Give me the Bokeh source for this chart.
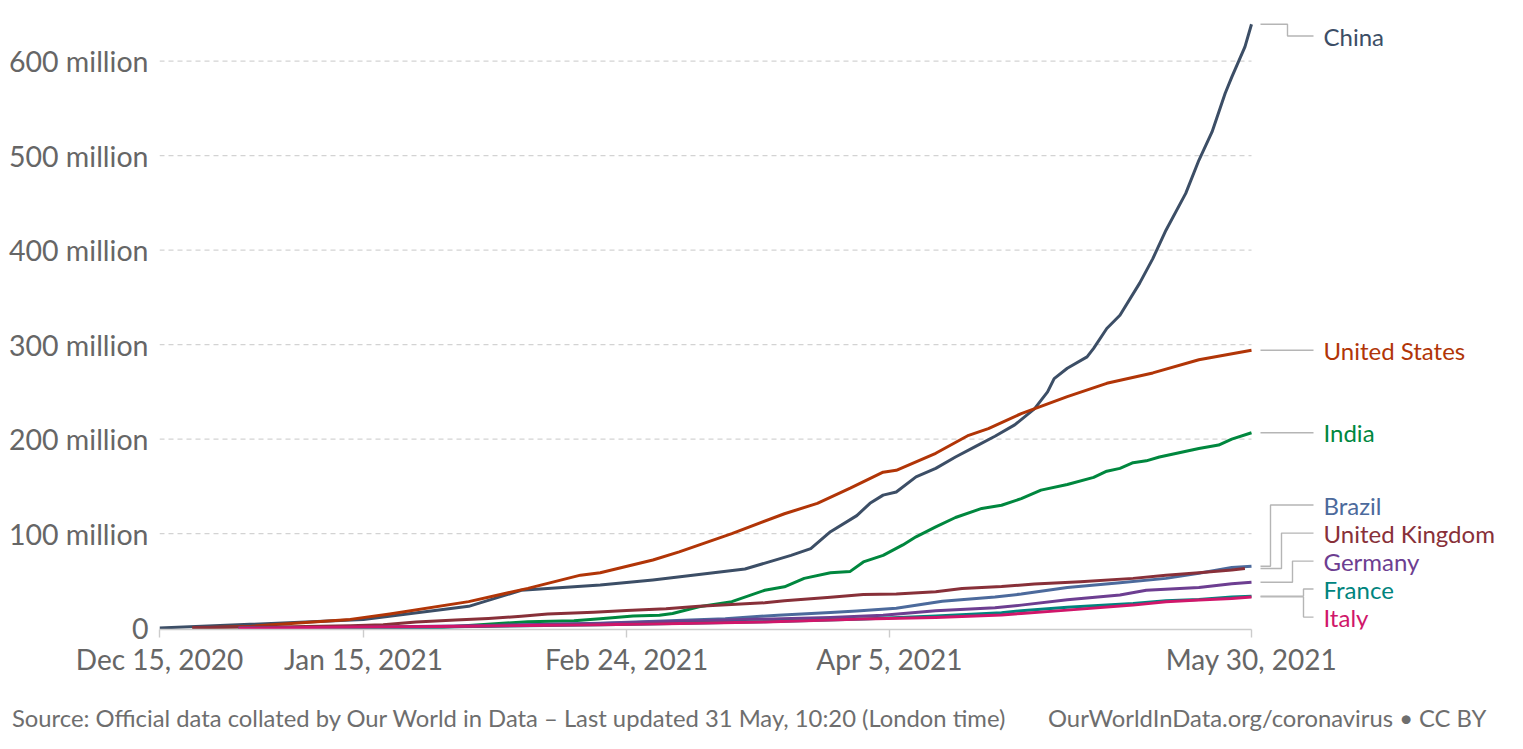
import pandas as pd
from bokeh.plotting import figure
from bokeh.layouts import column
from bokeh.models import Range1d, FixedTicker, ColumnDataSource, Div
from bokeh.core.properties import value
from bokeh.embed import file_html
from bokeh.resources import INLINE

# ---------------- data (cumulative doses, millions) ----------------
china_dates = ["2020-12-15", "2021-01-15", "2021-01-31", "2021-02-08", "2021-02-20", "2021-02-28",
               "2021-03-14", "2021-03-21", "2021-03-24", "2021-03-27", "2021-03-31", "2021-04-02",
               "2021-04-04", "2021-04-06", "2021-04-09", "2021-04-12", "2021-04-15", "2021-04-18",
               "2021-04-21", "2021-04-24", "2021-04-27", "2021-04-29", "2021-04-30", "2021-05-02",
               "2021-05-05", "2021-05-06", "2021-05-08", "2021-05-10", "2021-05-13", "2021-05-15",
               "2021-05-17", "2021-05-20", "2021-05-22", "2021-05-24", "2021-05-26", "2021-05-27",
               "2021-05-29", "2021-05-30"]
china_vals = [0, 9, 23, 40, 45.5, 51, 62.5, 77, 84, 102, 119, 132, 140.7, 144, 160, 169, 181, 192,
              203, 215, 232, 250, 264, 275, 287, 296, 317, 331, 365, 391, 421, 460, 495, 525, 566,
              583, 615, 639]

us_dates = ["2020-12-20", "2020-12-29", "2021-01-13", "2021-01-19", "2021-01-31", "2021-02-09",
            "2021-02-17", "2021-02-20", "2021-02-28", "2021-03-04", "2021-03-12", "2021-03-20",
            "2021-03-25", "2021-03-30", "2021-04-04", "2021-04-06", "2021-04-12", "2021-04-17",
            "2021-04-20", "2021-04-25", "2021-05-02", "2021-05-08", "2021-05-15", "2021-05-22",
            "2021-05-30"]
us_vals = [0, 2, 9.2, 15, 28, 42, 56, 58.5, 72, 80.7, 100, 121, 132, 148, 165, 167, 185, 204, 211,
           227, 245, 259, 270, 284, 294]

india_dates = ["2021-01-16", "2021-01-27", "2021-02-09", "2021-02-16", "2021-02-20", "2021-02-25",
               "2021-03-01", "2021-03-03", "2021-03-07", "2021-03-12", "2021-03-17", "2021-03-20",
               "2021-03-23", "2021-03-27", "2021-03-30", "2021-04-01", "2021-04-04", "2021-04-07",
               "2021-04-09", "2021-04-12", "2021-04-15", "2021-04-19", "2021-04-22", "2021-04-25",
               "2021-04-28", "2021-05-02", "2021-05-06", "2021-05-08", "2021-05-10", "2021-05-12",
               "2021-05-14", "2021-05-16", "2021-05-19", "2021-05-22", "2021-05-25", "2021-05-27",
               "2021-05-30"]
india_vals = [0.2, 1, 6.7, 7.7, 10, 12.7, 13.5, 15.5, 22.5, 28, 40, 43.7, 52.6, 58.5, 60, 70, 77,
              88, 96.6, 107, 117, 126.6, 130, 137, 146, 152, 159.5, 166, 169, 175, 177, 181, 185.5,
              190, 193.7, 200, 206.7]

brazil_dates = ["2021-01-17", "2021-01-29", "2021-02-13", "2021-02-20", "2021-03-11", "2021-03-19",
                "2021-03-27", "2021-03-31", "2021-04-06", "2021-04-13", "2021-04-21", "2021-04-25",
                "2021-05-02", "2021-05-10", "2021-05-17", "2021-05-22", "2021-05-27", "2021-05-30"]
brazil_vals = [0, 1.5, 4, 5, 10, 13.7, 16.6, 18, 21, 28.5, 33, 36, 43, 48, 52.6, 58, 64, 65.5]

uk_dates = ["2020-12-20", "2021-01-04", "2021-01-13", "2021-01-18", "2021-01-23", "2021-01-29",
            "2021-02-03", "2021-02-08", "2021-02-12", "2021-02-19", "2021-02-24", "2021-03-02",
            "2021-03-07", "2021-03-17", "2021-03-20", "2021-03-27", "2021-04-01", "2021-04-06",
            "2021-04-12", "2021-04-16", "2021-04-22", "2021-04-27", "2021-05-04", "2021-05-12",
            "2021-05-17", "2021-05-22", "2021-05-27", "2021-05-29"]
uk_vals = [0.6, 1.5, 2.5, 3.5, 6.5, 8.5, 10.2, 12.5, 14.8, 16.8, 18.7, 20.5, 23, 26.8, 28.9, 32.5,
           35.5, 36, 38.5, 42, 44, 46.6, 49, 52.6, 56, 58.5, 61.4, 63]

germany_dates = ["2020-12-27", "2021-01-15", "2021-02-03", "2021-02-20", "2021-03-11", "2021-03-27",
                 "2021-04-04", "2021-04-12", "2021-04-21", "2021-04-25", "2021-05-02", "2021-05-10",
                 "2021-05-14", "2021-05-22", "2021-05-27", "2021-05-30"]
germany_vals = [0.1, 1, 2.8, 4.8, 8.5, 11.3, 13.7, 18.3, 21.5, 24.3, 30, 35, 40, 43, 47, 48.5]

france_dates = ["2020-12-27", "2021-01-15", "2021-02-01", "2021-02-20", "2021-02-25", "2021-03-17",
                "2021-04-01", "2021-04-12", "2021-04-22", "2021-04-25", "2021-05-02", "2021-05-12",
                "2021-05-17", "2021-05-22", "2021-05-27", "2021-05-30"]
france_vals = [0, 0.5, 1.8, 3.5, 4, 6.7, 9.5, 12.7, 16.2, 18.3, 22, 26, 29, 30.3, 33, 33.8]

italy_dates = ["2020-12-27", "2021-01-15", "2021-02-01", "2021-02-20", "2021-03-02", "2021-03-17",
               "2021-04-01", "2021-04-12", "2021-04-22", "2021-04-25", "2021-05-02", "2021-05-12",
               "2021-05-17", "2021-05-22", "2021-05-27", "2021-05-30"]
italy_vals = [0, 1.2, 2.0, 3.5, 4.5, 6.5, 9.5, 11.3, 13.8, 15.5, 19, 24.3, 27.9, 29.6, 31.4, 33]

y_ticks = [0, 100, 200, 300, 400, 500, 600]
y_tick_labels = ["0", "100 million", "200 million", "300 million", "400 million", "500 million",
                 "600 million"]
x_tick_dates = ["2020-12-15", "2021-01-15", "2021-02-24", "2021-04-05", "2021-05-30"]
x_tick_labels = ["Dec 15, 2020", "Jan 15, 2021", "Feb 24, 2021", "Apr 5, 2021", "May 30, 2021"]

source_text = "Source: Official data collated by Our World in Data – Last updated 31 May, 10:20 (London time)"
credit_text = "OurWorldInData.org/coronavirus • CC BY"

# ---------------- styling / layout ----------------
series = [
    # name, dates, values, colour, label y (millions), elbow px after end
    ("China", china_dates, china_vals, "#3c4e66", 626.5, 36),
    ("United States", us_dates, us_vals, "#b13507", None, None),
    ("India", india_dates, india_vals, "#00873e", None, None),
    ("Brazil", brazil_dates, brazil_vals, "#4c6a9c", 130.2, 19),
    ("United Kingdom", uk_dates, uk_vals, "#883039", 100.5, 30),
    ("Germany", germany_dates, germany_vals, "#6d3e91", 70.9, 41),
    ("France", france_dates, france_vals, "#00847e", 41.3, 52),
    ("Italy", italy_dates, italy_vals, "#d0166a", 11.6, 52),
]

FONT = "Lato"
W, H = 1515, 700
BL, BR, BT, BB = 159, 0, 16, 71
frame_w = W - BL - BR
frame_h = H - BT - BB
data_px = 1092.0                       # pixels used by the data period
start = pd.Timestamp(x_tick_dates[0])
end = pd.Timestamp(x_tick_dates[-1])
ndays = (end - start).days
px_per_day = data_px / ndays
x_end = start + pd.Timedelta(days=frame_w / px_per_day)
px_per_m = 0.945
y0 = -1.5
y1 = y0 + frame_h / px_per_m


def after_end(px):
    return end + pd.Timedelta(days=px / px_per_day)


p = figure(width=W, height=H, x_axis_type="datetime", output_backend="svg",
           toolbar_location=None, x_range=Range1d(start, x_end), y_range=Range1d(y0, y1),
           min_border_left=BL, min_border_right=BR, min_border_top=BT, min_border_bottom=BB)
p.outline_line_color = None
p.background_fill_color = "white"
p.border_fill_color = "white"
p.xgrid.visible = False
p.ygrid.visible = False

# dashed gridlines across the data period only
g_ticks = [t for t in y_ticks if t != 0]
p.segment(x0=[start] * len(g_ticks), x1=[end] * len(g_ticks), y0=g_ticks, y1=g_ticks,
          line_color="#d3d3d3", line_width=1.4, line_dash="5 4")

# series lines
for name, d, v, col, ly, elbow in series:
    p.line(pd.to_datetime(d), v, line_color=col, line_width=3, line_join="round")

# connectors + labels
cx, cy, tx, ty, tt, tc = [], [], [], [], [], []
x_start_c = after_end(9)
x_end_c = after_end(62)
x_text = after_end(72)
for name, d, v, col, ly, elbow in series:
    last = v[-1]
    if ly is None:
        ly = last
        cx.append([x_start_c, x_end_c])
        cy.append([last, last])
    else:
        xe = after_end(elbow)
        cx.append([x_start_c, xe, xe, x_end_c])
        cy.append([last, last, ly, ly])
    tx.append(x_text)
    ty.append(ly)
    tt.append(name)
    tc.append(col)

p.multi_line(xs=cx, ys=cy, line_color="#b5b5b5", line_width=1.4)
src = ColumnDataSource(dict(x=tx, y=ty, text=tt, color=tc))
p.text(x="x", y="y", text="text", text_color="color", source=src, text_font=value(FONT),
       text_font_size="24px", text_baseline="middle", text_align="left")

# axes
xax = p.xaxis[0]
tick_ms = [pd.Timestamp(t).value / 1e6 for t in x_tick_dates]
xax.ticker = FixedTicker(ticks=tick_ms)
xax.major_label_overrides = {t: l for t, l in zip(tick_ms, x_tick_labels)}
xax.bounds = (start, end)
xax.axis_line_color = "#cccccc"
xax.axis_line_width = 1.4
xax.major_tick_line_color = "#cccccc"
xax.major_tick_line_width = 1.4
xax.major_tick_out = 8
xax.major_tick_in = 0
xax.minor_tick_line_color = None
xax.major_label_text_font = FONT
xax.major_label_text_font_size = "28px"
xax.major_label_text_color = "#666666"
xax.major_label_standoff = 4

yax = p.yaxis[0]
yax.ticker = FixedTicker(ticks=y_ticks)
yax.major_label_overrides = {t: l for t, l in zip(y_ticks, y_tick_labels)}
yax.axis_line_color = None
yax.major_tick_line_color = None
yax.minor_tick_line_color = None
yax.major_tick_out = 0
yax.major_tick_in = 0
yax.major_label_text_font = FONT
yax.major_label_text_font_size = "28.5px"
yax.major_label_text_color = "#666666"
yax.major_label_standoff = 11

# footer
footer = Div(
    width=W, height=41,
    text=(
        '<div style="position:relative;width:%dpx;height:41px;font-family:Lato;'
        'font-size:23.8px;line-height:28px;color:#6e6e6e;white-space:nowrap;">'
        '<span style="position:absolute;left:7px;top:-1px;">%s</span>'
        '<span style="position:absolute;left:1043px;top:-1px;">%s</span></div>'
    ) % (W, source_text, credit_text),
)

layout = column(p, footer, spacing=0)
open("out.html", "w").write(file_html(layout, INLINE))
